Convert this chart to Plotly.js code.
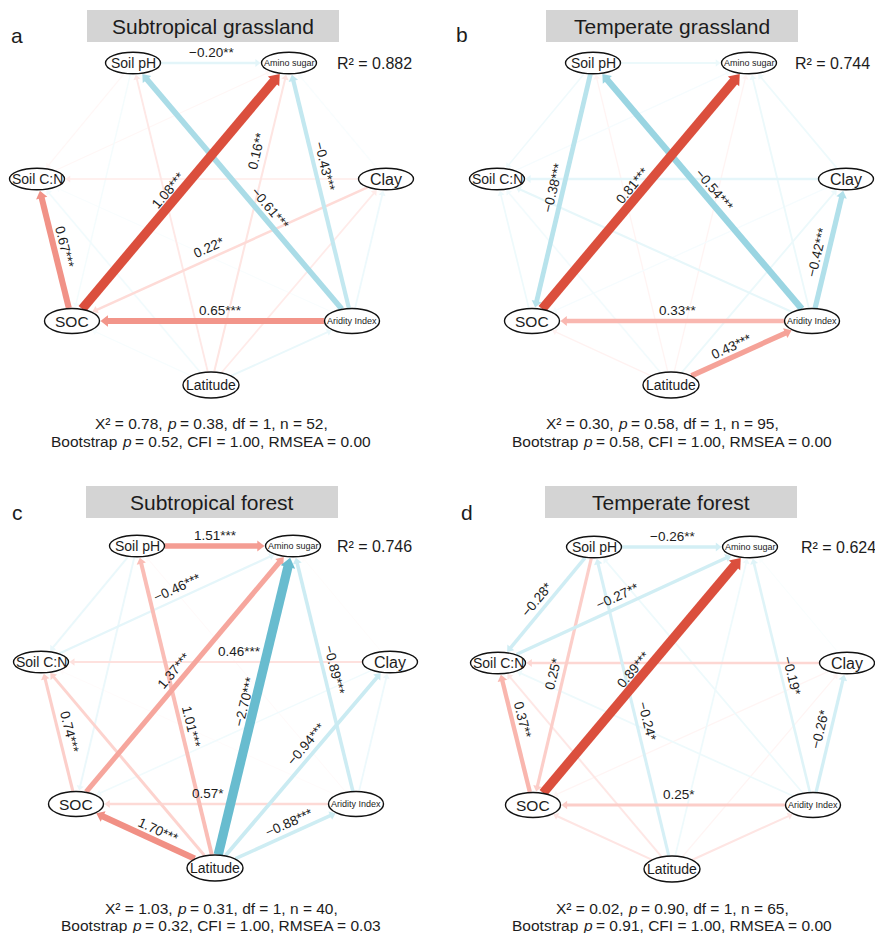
<!DOCTYPE html>
<html>
<head>
<meta charset="utf-8">
<script src="https://cdn.plot.ly/plotly-3.0.1.min.js"></script>
<style>
  html, body { margin: 0; padding: 0; background: #ffffff; }
  #chart { width: 875px; height: 933px; }
</style>
</head>
<body>
<div id="chart"></div>
<script>
// ---- Model variables -------------------------------------------------------
const nodeNames = ['Soil pH', 'Amino sugar', 'Soil C:N', 'Clay', 'SOC', 'Aridity Index', 'Latitude'];

// ---- Panel headings and fit statistics ------------------------------------
const panelLetters = ['a', 'b', 'c', 'd'];
const panelTitles = ['Subtropical grassland', 'Temperate grassland', 'Subtropical forest', 'Temperate forest'];
const r2Values = ['0.882', '0.744', '0.746', '0.624'];
const chiSq = ['0.78', '0.30', '1.03', '0.02'];
const pValue = ['0.38', '0.58', '0.31', '0.90'];
const dfValue = ['1', '1', '1', '1'];
const nValue = ['52', '95', '40', '65'];
const bootP = ['0.52', '0.58', '0.32', '0.91'];
const cfiValue = ['1.00', '1.00', '1.00', '1.00'];
const rmseaValue = ['0.00', '0.00', '0.03', '0.00'];

// ---- Standardised path coefficients: [from, to, estimate, significance] ----
const pathsA = [
  ['Soil pH', 'Amino sugar', -0.20, '**'],
  ['SOC', 'Amino sugar', 1.08, '***'],
  ['Aridity Index', 'Soil pH', -0.61, '***'],
  ['Aridity Index', 'Amino sugar', -0.43, '***'],
  ['Latitude', 'Amino sugar', 0.16, '**'],
  ['SOC', 'Soil C:N', 0.67, '***'],
  ['Aridity Index', 'SOC', 0.65, '***'],
  ['Clay', 'SOC', 0.22, '*'],
  ['Latitude', 'Aridity Index', -0.15, ''],
  ['Latitude', 'Clay', 0.12, ''],
  ['Latitude', 'Soil pH', 0.14, ''],
  ['Latitude', 'SOC', -0.06, ''],
  ['Latitude', 'Soil C:N', -0.10, ''],
  ['Aridity Index', 'Clay', -0.13, ''],
  ['Aridity Index', 'Soil C:N', -0.04, ''],
  ['Clay', 'Soil C:N', 0.12, ''],
  ['Clay', 'Amino sugar', -0.05, ''],
  ['Soil pH', 'SOC', -0.08, ''],
  ['Soil pH', 'Soil C:N', 0.05, ''],
  ['Soil C:N', 'Amino sugar', 0.05, '']
];
const pathsB = [
  ['SOC', 'Amino sugar', 0.81, '***'],
  ['Aridity Index', 'Soil pH', -0.54, '***'],
  ['Soil pH', 'SOC', -0.38, '***'],
  ['Aridity Index', 'Clay', -0.42, '***'],
  ['Aridity Index', 'SOC', 0.33, '**'],
  ['Latitude', 'Aridity Index', 0.43, '***'],
  ['Soil pH', 'Amino sugar', -0.10, ''],
  ['Clay', 'Soil C:N', -0.14, ''],
  ['Aridity Index', 'Soil C:N', -0.13, ''],
  ['Latitude', 'Soil C:N', -0.07, ''],
  ['Soil pH', 'Soil C:N', -0.08, ''],
  ['Clay', 'Amino sugar', -0.09, ''],
  ['Aridity Index', 'Amino sugar', -0.10, ''],
  ['Latitude', 'Amino sugar', 0.05, ''],
  ['Latitude', 'Soil pH', 0.05, ''],
  ['Latitude', 'Clay', -0.10, ''],
  ['Latitude', 'SOC', 0.06, ''],
  ['Clay', 'SOC', -0.05, ''],
  ['SOC', 'Soil C:N', -0.09, ''],
  ['Soil C:N', 'Amino sugar', -0.05, '']
];
const pathsC = [
  ['Soil pH', 'Amino sugar', 1.51, '***'],
  ['Soil C:N', 'Amino sugar', -0.46, '***'],
  ['Clay', 'Soil C:N', 0.46, '***'],
  ['SOC', 'Amino sugar', 1.37, '***'],
  ['Latitude', 'Amino sugar', -2.70, '***'],
  ['Aridity Index', 'Amino sugar', -0.89, '***'],
  ['Latitude', 'Soil pH', 1.01, '***'],
  ['SOC', 'Soil C:N', 0.74, '***'],
  ['Latitude', 'Clay', -0.94, '***'],
  ['Aridity Index', 'SOC', 0.57, '*'],
  ['Latitude', 'SOC', 1.70, '***'],
  ['Latitude', 'Aridity Index', -0.88, '***'],
  ['Soil pH', 'Soil C:N', -0.38, ''],
  ['Soil pH', 'SOC', -0.36, ''],
  ['Latitude', 'Soil C:N', 0.68, ''],
  ['Aridity Index', 'Clay', -0.32, ''],
  ['Clay', 'SOC', -0.25, ''],
  ['Aridity Index', 'Soil C:N', 0.06, ''],
  ['Clay', 'Amino sugar', 0.05, ''],
  ['Aridity Index', 'Soil pH', 0.07, '']
];
const pathsD = [
  ['Soil pH', 'Amino sugar', -0.26, '**'],
  ['Soil pH', 'Soil C:N', -0.28, '*'],
  ['Soil C:N', 'Amino sugar', -0.27, '**'],
  ['SOC', 'Amino sugar', 0.89, '***'],
  ['Soil pH', 'SOC', 0.25, '*'],
  ['Latitude', 'Soil pH', -0.24, '*'],
  ['Aridity Index', 'Amino sugar', -0.19, '*'],
  ['Aridity Index', 'Clay', -0.26, '*'],
  ['SOC', 'Soil C:N', 0.37, '**'],
  ['Aridity Index', 'SOC', 0.25, '*'],
  ['Clay', 'Soil C:N', 0.20, ''],
  ['Latitude', 'SOC', 0.13, ''],
  ['Latitude', 'Aridity Index', 0.13, ''],
  ['Latitude', 'Soil C:N', 0.12, ''],
  ['Latitude', 'Amino sugar', -0.10, ''],
  ['Aridity Index', 'Soil pH', -0.10, ''],
  ['Aridity Index', 'Soil C:N', -0.10, ''],
  ['Latitude', 'Clay', 0.05, ''],
  ['Clay', 'Amino sugar', -0.03, ''],
  ['Clay', 'SOC', 0.05, '']
];
const panelPaths = [pathsA, pathsB, pathsC, pathsD];

// ---- Diagram geometry (pixel space of the figure) --------------------------
// node centres of the first panel; the others are shifted copies
const nodeCentre = {
  'Soil pH': [133, 63], 'Amino sugar': [289, 63],
  'Soil C:N': [37, 179], 'Clay': [386, 179],
  'SOC': [72, 321], 'Aridity Index': [352, 321],
  'Latitude': [211, 385]
};
const nodeHalfW = {'Soil pH': 27.5, 'Amino sugar': 27.5, 'Soil C:N': 27.5, 'Clay': 27.5, 'SOC': 27.5, 'Aridity Index': 27.5, 'Latitude': 28};
const nodeHalfH = {'Soil pH': 10.8, 'Amino sugar': 10.8, 'Soil C:N': 10.8, 'Clay': 10.8, 'SOC': 12.5, 'Aridity Index': 12.5, 'Latitude': 13};
const nodeFont = {'Soil pH': 14, 'Amino sugar': 9, 'Soil C:N': 14, 'Clay': 16, 'SOC': 15.5, 'Aridity Index': 9, 'Latitude': 14};
const panelShift = [[0, 0], [460, 0], [4, 483], [461, 484]];

// where each coefficient label sits along its path (fraction from the source)
const labelAt = [
  {'Soil pH>Amino sugar': 0.5, 'SOC>Amino sugar': 0.48, 'Aridity Index>Soil pH': 0.41, 'Aridity Index>Amino sugar': 0.59,
   'Latitude>Amino sugar': 0.72, 'SOC>Soil C:N': 0.5, 'Aridity Index>SOC': 0.47, 'Clay>SOC': 0.55},
  {'SOC>Amino sugar': 0.5, 'Aridity Index>Soil pH': 0.48, 'Soil pH>SOC': 0.49, 'Aridity Index>Clay': 0.47,
   'Aridity Index>SOC': 0.48, 'Latitude>Aridity Index': 0.46},
  {'Soil pH>Amino sugar': 0.5, 'Soil C:N>Amino sugar': 0.56, 'Clay>Soil C:N': 0.43, 'SOC>Amino sugar': 0.49,
   'Latitude>Amino sugar': 0.51, 'Aridity Index>Amino sugar': 0.51, 'Latitude>Soil pH': 0.43, 'SOC>Soil C:N': 0.49,
   'Latitude>Clay': 0.57, 'Aridity Index>SOC': 0.53, 'Latitude>SOC': 0.44, 'Latitude>Aridity Index': 0.56},
  {'Soil pH>Amino sugar': 0.5, 'Soil pH>Soil C:N': 0.51, 'Soil C:N>Amino sugar': 0.49, 'SOC>Amino sugar': 0.5,
   'Soil pH>SOC': 0.5, 'Latitude>Soil pH': 0.45, 'Aridity Index>Amino sugar': 0.49, 'Aridity Index>Clay': 0.52,
   'SOC>Soil C:N': 0.58, 'Aridity Index>SOC': 0.48}
];

const titleBox = [[87, 10], [546, 10], [86, 486], [545, 486]];
const letterPos = [[17, 35], [462, 34], [17, 512], [467, 512]];
const r2Pos = [[374, 63], [832, 63], [374, 546], [838, 547]];
const fitX = [[210, 210], [661, 671], [220, 220], [671, 671]];
const fitY = [[423, 441], [423, 441], [908, 925], [908, 925]];

const FONT = 'Liberation Sans, Arial, Helvetica, sans-serif';
const FIT_SIZE = 15.5;
const INK = '#1c1c1c';
const POS = [219, 79, 61];
const NEG = [104, 188, 207];
// per-channel easing of the fade toward white (reds keep their red channel longer)
const POS_EASE = [2.0, 1.0, 1.0];
const NEG_EASE = [1.0, 1.15, 1.25];

function tint(rgb, ease, t) {
  return 'rgb(' + rgb.map((c, i) => Math.round(255 - (255 - c) * Math.pow(t, ease[i]))).join(',') + ')';
}
function fmt(v) {
  return (v < 0 ? '\u2212' : '') + Math.abs(v).toFixed(2);
}
// distance from an ellipse centre to its outline along (ux, uy)
function rim(name, ux, uy) {
  const a = nodeHalfW[name], b = nodeHalfH[name];
  return 1 / Math.sqrt((ux / a) * (ux / a) + (uy / b) * (uy / b));
}

// text measuring for lines mixing upright and italic runs
const measureCtx = document.createElement('canvas').getContext('2d');
function runWidth(str, italic) {
  measureCtx.font = (italic ? 'italic ' : '') + FIT_SIZE + 'px "Liberation Sans", Arial, sans-serif';
  return measureCtx.measureText(str).width;
}
// lays out [[text, italic], ...] centred on cx
function pushRuns(runs, cx, cy, list) {
  const total = runs.reduce((s, [txt, it]) => s + runWidth(txt, it), 0);
  let x = cx - total / 2;
  runs.forEach(([txt, it]) => {
    const lead = txt.length - txt.replace(/^\s+/, '').length;
    const shown = txt.trim();
    const offset = runWidth(txt.slice(0, lead), it);
    list.push({
      x: x + offset, y: cy, xref: 'x', yref: 'y', xanchor: 'left', yanchor: 'middle',
      showarrow: false, text: shown, borderpad: 0,
      font: {family: FONT, size: FIT_SIZE, color: INK, style: it ? 'italic' : 'normal'}
    });
    x += runWidth(txt, it);
  });
}

const traces = [];
const shapes = [];
const annotations = [];

panelPaths.forEach((paths, p) => {
  const [ox, oy] = panelShift[p];
  const pos = n => [nodeCentre[n][0] + ox, nodeCentre[n][1] + oy];
  const maxAbs = Math.max(...paths.map(e => Math.abs(e[2])));

  // weakest paths underneath, strongest on top
  const ordered = paths.slice().sort((e1, e2) => Math.abs(e1[2]) - Math.abs(e2[2]));
  ordered.forEach(([from, to, est, sig]) => {
    const [sx, sy] = pos(from);
    const [tx, ty] = pos(to);
    const len = Math.hypot(tx - sx, ty - sy);
    const ux = (tx - sx) / len, uy = (ty - sy) / len;
    const r = Math.abs(est) / maxAbs;
    const w = 0.8 + 8.5 * r;
    const col = est >= 0 ? tint(POS, POS_EASE, r) : tint(NEG, NEG_EASE, r);

    // shaft from the source outline to the arrow head
    const d0 = rim(from, ux, uy) + 0.5;
    const tipD = len - rim(to, ux, uy) - 1;
    const headW = 5.5 + w;               // head width in px
    const hr = headW / 2.31;             // triangle marker half-size
    traces.push({
      type: 'scatter', mode: 'lines', hoverinfo: 'skip', showlegend: false,
      x: [sx + ux * d0, sx + ux * (tipD - 1.2 * hr)],
      y: [sy + uy * d0, sy + uy * (tipD - 1.2 * hr)],
      line: {color: col, width: w}
    });
    // arrow head
    traces.push({
      type: 'scatter', mode: 'markers', hoverinfo: 'skip', showlegend: false,
      x: [sx + ux * (tipD - hr)], y: [sy + uy * (tipD - hr)],
      marker: {symbol: 'triangle-right', size: 2 * hr, color: col,
               angle: Math.atan2(uy, ux) * 180 / Math.PI, line: {width: 0}}
    });

    if (sig) {
      const t = labelAt[p][from + '>' + to];
      let ang = Math.atan2(ty - sy, tx - sx) * 180 / Math.PI;
      if (ang > 90) ang -= 180;
      if (ang <= -90) ang += 180;
      const rad = ang * Math.PI / 180;
      annotations.push({
        x: sx + (tx - sx) * t + Math.sin(rad) * 10.5,
        y: sy + (ty - sy) * t - Math.cos(rad) * 10.5,
        xref: 'x', yref: 'y', showarrow: false,
        text: fmt(est) + sig, textangle: ang,
        font: {family: FONT, size: 13.5, color: INK}
      });
    }
  });

  // nodes
  nodeNames.forEach(n => {
    const [cx, cy] = pos(n);
    shapes.push({
      type: 'circle', xref: 'x', yref: 'y', layer: 'above',
      x0: cx - nodeHalfW[n], x1: cx + nodeHalfW[n], y0: cy - nodeHalfH[n], y1: cy + nodeHalfH[n],
      line: {color: '#111111', width: 1.4}, fillcolor: '#ffffff'
    });
    annotations.push({
      x: cx, y: cy, xref: 'x', yref: 'y', showarrow: false, text: n,
      font: {family: FONT, size: nodeFont[n], color: INK}
    });
  });

  // heading box
  const [bx, by] = titleBox[p];
  shapes.push({
    type: 'rect', xref: 'x', yref: 'y', layer: 'below',
    x0: bx, x1: bx + 252, y0: by, y1: by + 32,
    line: {width: 0}, fillcolor: '#d4d4d4'
  });
  annotations.push({
    x: bx + 126, y: by + 16, xref: 'x', yref: 'y', showarrow: false,
    text: panelTitles[p], font: {family: FONT, size: 21, color: INK}
  });
  annotations.push({
    x: letterPos[p][0], y: letterPos[p][1], xref: 'x', yref: 'y', showarrow: false,
    text: panelLetters[p], font: {family: FONT, size: 21, color: INK}
  });
  annotations.push({
    x: r2Pos[p][0], y: r2Pos[p][1], xref: 'x', yref: 'y', showarrow: false,
    text: 'R\u00B2 = ' + r2Values[p], font: {family: FONT, size: 16, color: INK}
  });

  // fit statistics
  pushRuns([
    ['X\u00B2 = ' + chiSq[p] + ', ', false], ['p', true],
    [' = ' + pValue[p] + ', df = ' + dfValue[p] + ', n = ' + nValue[p] + ',', false]
  ], fitX[p][0], fitY[p][0], annotations);
  pushRuns([
    ['Bootstrap ', false], ['p', true],
    [' = ' + bootP[p] + ', CFI = ' + cfiValue[p] + ', RMSEA = ' + rmseaValue[p], false]
  ], fitX[p][1], fitY[p][1], annotations);
});

const layout = {
  width: 875, height: 933,
  margin: {l: 0, r: 0, t: 0, b: 0, pad: 0},
  paper_bgcolor: '#ffffff', plot_bgcolor: '#ffffff',
  showlegend: false,
  xaxis: {range: [0, 875], visible: false, fixedrange: true},
  yaxis: {range: [933, 0], visible: false, fixedrange: true},
  shapes: shapes,
  annotations: annotations
};

Plotly.newPlot('chart', traces, layout, {displayModeBar: false, staticPlot: true});
</script>
</body>
</html>
